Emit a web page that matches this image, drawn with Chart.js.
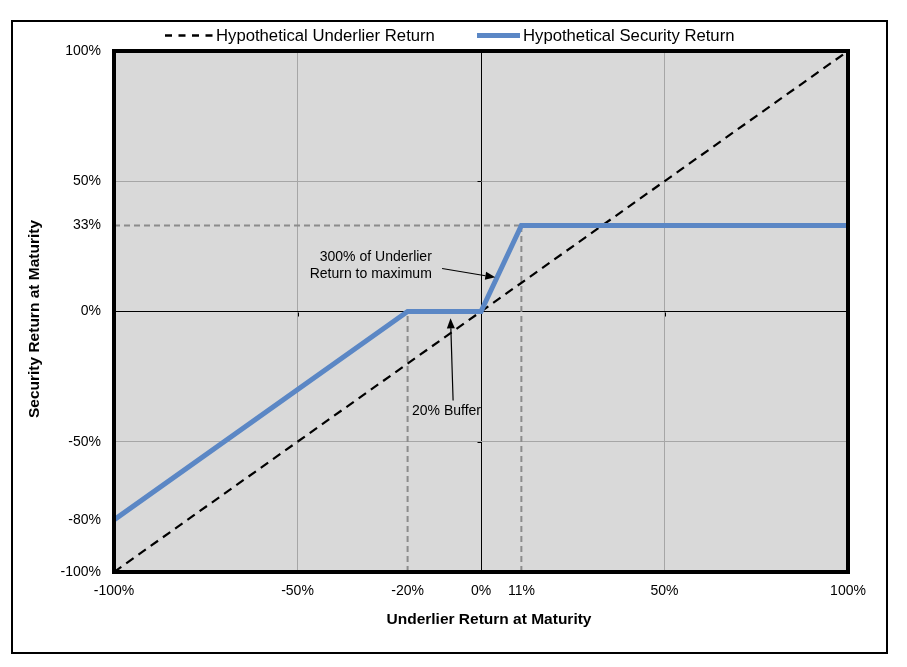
<!DOCTYPE html>
<html><head><meta charset="utf-8">
<script src="https://cdn.jsdelivr.net/npm/chart.js@4"></script>
<style>html,body{margin:0;padding:0;background:#fff;}#wrap{width:907px;height:667px;position:relative}</style>
</head><body><div id="wrap"><canvas id="c" width="907" height="667"></canvas></div>
<script>
// ---- data ----
const seriesNames = ['Hypothetical Underlier Return', 'Hypothetical Security Return'];
const underlierX = [-100, 100];
const underlierY = [-100, 100];
const securityX = [-100, -20, 0, 11, 100];
const securityY = [-80, 0, 0, 33, 33];
const xTicks = [-100, -50, -20, 0, 11, 50, 100];
const yTicks = [-100, -80, -50, 0, 33, 50, 100];
const bufferGuideX = [-20, -20];
const bufferGuideY = [-100, 0];
const capGuideX = [11, 11];
const capGuideY = [-100, 33];
const capLevelX = [-100, 11];
const capLevelY = [33, 33];
const xTitle = 'Underlier Return at Maturity';
const yTitle = 'Security Return at Maturity';
const capNote = ['300% of Underlier', 'Return to maximum'];
const bufferNote = '20% Buffer';

const FONT = "'Liberation Sans', Arial, sans-serif";
const pts = (xs, ys) => xs.map((x, i) => ({x: x, y: ys[i]}));
const BLUE = '#5b87c5';
const GUIDE = '#8c8c8c';

function arrow(ctx, x1, y1, x2, y2) {
  const ang = Math.atan2(y2 - y1, x2 - x1);
  const L = 10, W = 4;
  const bx = x2 - L * Math.cos(ang), by = y2 - L * Math.sin(ang);
  ctx.beginPath(); ctx.moveTo(x1, y1); ctx.lineTo(bx, by); ctx.stroke();
  ctx.beginPath();
  ctx.moveTo(x2, y2);
  ctx.lineTo(bx + W * Math.sin(ang), by - W * Math.cos(ang));
  ctx.lineTo(bx - W * Math.sin(ang), by + W * Math.cos(ang));
  ctx.closePath(); ctx.fill();
}

const deco = {
  id: 'deco',
  beforeDraw(chart) {
    const {ctx, chartArea: a} = chart;
    ctx.save();
    ctx.fillStyle = '#fff'; ctx.fillRect(0, 0, chart.width, chart.height);
    ctx.fillStyle = '#d9d9d9';
    ctx.fillRect(a.left, a.top, a.right - a.left, a.bottom - a.top);
    ctx.restore();
  },
  afterDraw(chart) {
    const {ctx, chartArea: a, scales: {x, y}} = chart;
    ctx.save();
    // small tick marks on zero axes
    ctx.strokeStyle = '#000'; ctx.lineWidth = 1;
    const x0 = Math.round(x.getPixelForValue(0)) + 0.5, y0 = Math.round(y.getPixelForValue(0)) + 0.5;
    [-50, 50].forEach(v => {
      const py = Math.round(y.getPixelForValue(v)) + 0.5;
      ctx.beginPath(); ctx.moveTo(x0 - 4, py); ctx.lineTo(x0, py); ctx.stroke();
      const px = Math.round(x.getPixelForValue(v)) + 0.5;
      ctx.beginPath(); ctx.moveTo(px, y0); ctx.lineTo(px, y0 + 4); ctx.stroke();
    });
    // plot frame
    ctx.strokeStyle = '#000'; ctx.lineWidth = 4;
    ctx.strokeRect(a.left, a.top, a.right - a.left, a.bottom - a.top);
    // outer frame
    ctx.lineWidth = 2;
    ctx.strokeRect(12, 21, 875, 632);
    // legend
    ctx.lineWidth = 2.5; ctx.setLineDash([7, 6.5]);
    ctx.beginPath(); ctx.moveTo(165, 35.5); ctx.lineTo(214, 35.5); ctx.stroke();
    ctx.setLineDash([]);
    ctx.strokeStyle = BLUE; ctx.lineWidth = 5;
    ctx.beginPath(); ctx.moveTo(477, 35.5); ctx.lineTo(520, 35.5); ctx.stroke();
    ctx.fillStyle = '#000'; ctx.font = '16.7px ' + FONT; ctx.textBaseline = 'middle'; ctx.textAlign = 'left';
    ctx.fillText(seriesNames[0], 216, 36);
    ctx.fillText(seriesNames[1], 523, 36);
    // axis titles
    ctx.font = 'bold 15.5px ' + FONT; ctx.textAlign = 'center';
    ctx.fillText(xTitle, (a.left + a.right) / 2 + 8, 620);
    ctx.save(); ctx.translate(35, 319); ctx.rotate(-Math.PI / 2);
    ctx.fillText(yTitle, 0, 0); ctx.restore();
    // annotations
    ctx.font = '14px ' + FONT; ctx.textAlign = 'right';
    const tx = x.getPixelForValue(-13.4);
    ctx.fillText(capNote[0], tx, y.getPixelForValue(20.8));
    ctx.fillText(capNote[1], tx, y.getPixelForValue(14.4));
    ctx.textAlign = 'left';
    ctx.fillText(bufferNote, x.getPixelForValue(-18.8), y.getPixelForValue(-38.2));
    ctx.strokeStyle = '#000'; ctx.fillStyle = '#000'; ctx.lineWidth = 1.2;
    arrow(ctx, x.getPixelForValue(-10.6), y.getPixelForValue(16.5), x.getPixelForValue(3.9), y.getPixelForValue(13.1));
    arrow(ctx, x.getPixelForValue(-7.6), y.getPixelForValue(-34.2), x.getPixelForValue(-8.3), y.getPixelForValue(-2.6));
    ctx.restore();
  }
};

const gridColor = (ctx) => {
  const v = ctx.tick && ctx.tick.value;
  if (v === 0) return '#000';
  if (v === 50 || v === -50) return '#a6a6a6';
  return 'rgba(0,0,0,0)';
};

new Chart(document.getElementById('c'), {
  type: 'line',
  data: {
    datasets: [
      {label: seriesNames[1], data: pts(securityX, securityY), borderColor: BLUE, borderWidth: 5, pointRadius: 0, order: 0, tension: 0},
      {label: seriesNames[0], data: pts(underlierX, underlierY), borderColor: '#000', borderWidth: 2.2, borderDash: [9, 6], pointRadius: 0, order: 1},
      {label: 'buffer guide', data: pts(bufferGuideX, bufferGuideY), borderColor: GUIDE, borderWidth: 2, borderDash: [6, 4], pointRadius: 0, order: 2},
      {label: 'cap guide', data: pts(capGuideX, capGuideY), borderColor: GUIDE, borderWidth: 2, borderDash: [6, 4], pointRadius: 0, order: 2},
      {label: 'cap level', data: pts(capLevelX, capLevelY), borderColor: GUIDE, borderWidth: 2, borderDash: [6, 4], pointRadius: 0, order: 2}
    ]
  },
  options: {
    responsive: false,
    animation: false,
    layout: {padding: {top: 51, right: 59, left: 0, bottom: 0}},
    plugins: {legend: {display: false}, tooltip: {enabled: false}},
    scales: {
      x: {
        type: 'linear', min: -100, max: 100,
        afterBuildTicks: (s) => { s.ticks = xTicks.map(v => ({value: v})); },
        afterFit: (s) => { s.height = 95; },
        ticks: {color: '#000', padding: 11, maxRotation: 0, autoSkip: false, font: {family: FONT, size: 14}, callback: (v) => v + '%'},
        grid: {color: gridColor, lineWidth: 1, drawTicks: false},
        border: {display: false}
      },
      y: {
        type: 'linear', min: -100, max: 100,
        afterBuildTicks: (s) => { s.ticks = yTicks.map(v => ({value: v})); },
        afterFit: (s) => { s.width = 114; },
        ticks: {color: '#000', padding: 13, autoSkip: false, font: {family: FONT, size: 14}, callback: (v) => v + '%'},
        grid: {color: gridColor, lineWidth: 1, drawTicks: false},
        border: {display: false}
      }
    }
  },
  plugins: [deco]
});
</script>
</body></html>
